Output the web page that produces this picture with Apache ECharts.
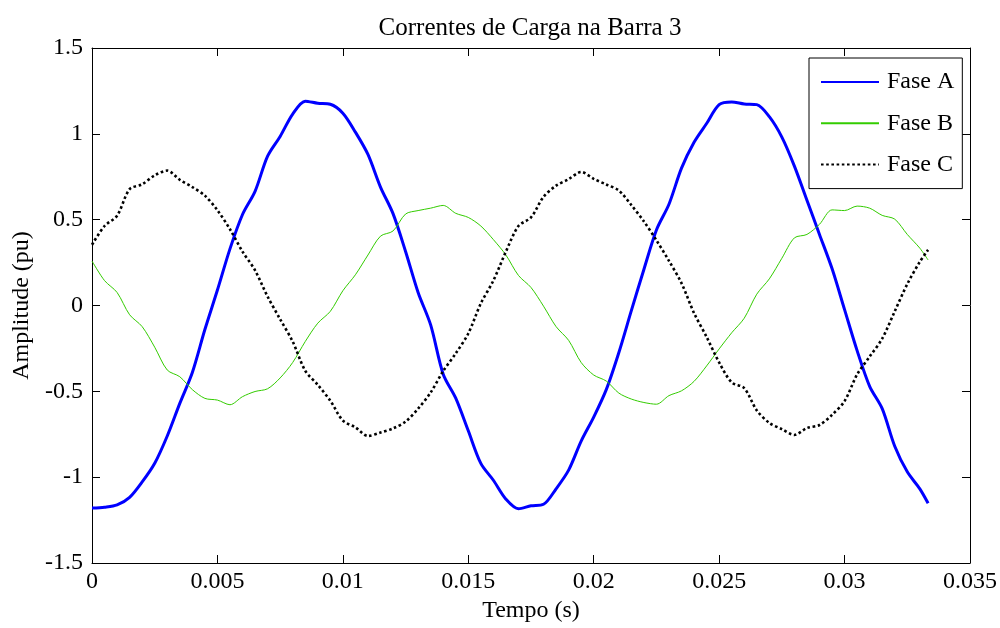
<!DOCTYPE html>
<html>
<head>
<meta charset="utf-8">
<script src="https://cdn.jsdelivr.net/npm/echarts@6/dist/echarts.min.js"></script>
<style>
html,body{margin:0;padding:0;background:#fff;}
#chart{width:1000px;height:628px;}
</style>
</head>
<body>
<div id="chart"></div>
<script>
var titleText = 'Correntes de Carga na Barra 3';
var xName = 'Tempo (s)';
var yName = 'Amplitude (pu)';
var seriesNames = ['Fase A', 'Fase B', 'Fase C'];
var xTicks = [0, 0.005, 0.01, 0.015, 0.02, 0.025, 0.03, 0.035];
var yTicks = [-1.5, -1, -0.5, 0, 0.5, 1, 1.5];

var tempo = [0, 0.0005, 0.001, 0.0015, 0.002, 0.0025, 0.003, 0.0035, 0.004, 0.0045,
  0.005, 0.0055, 0.006, 0.0065, 0.007, 0.0075, 0.008, 0.0085, 0.009, 0.0095,
  0.01, 0.0105, 0.011, 0.0115, 0.012, 0.0125, 0.013, 0.0135, 0.014, 0.0145,
  0.015, 0.0155, 0.016, 0.0165, 0.017, 0.0175, 0.018, 0.0185, 0.019, 0.0195,
  0.02, 0.0205, 0.021, 0.0215, 0.022, 0.0225, 0.023, 0.0235, 0.024, 0.0245,
  0.025, 0.0255, 0.026, 0.0265, 0.027, 0.0275, 0.028, 0.0285, 0.029, 0.0295,
  0.03, 0.0305, 0.031, 0.0315, 0.032, 0.0325, 0.033, 0.03333];

var faseA = [-1.18, -1.175, -1.162, -1.118, -1.028, -0.919, -0.76, -0.57, -0.39, -0.14,
  0.09, 0.33, 0.53, 0.665, 0.87, 0.985, 1.115, 1.19, 1.178, 1.172,
  1.12, 1.01, 0.88, 0.69, 0.535, 0.315, 0.076, -0.113, -0.40, -0.54,
  -0.73, -0.92, -1.018, -1.128, -1.184, -1.167, -1.158, -1.068, -0.959, -0.79,
  -0.65, -0.49, -0.275, -0.03, 0.21, 0.44, 0.59, 0.80, 0.951, 1.06,
  1.17, 1.186, 1.174, 1.17, 1.10, 0.981, 0.812, 0.613, 0.414, 0.215,
  -0.024, -0.263, -0.471, -0.601, -0.82, -0.969, -1.068, -1.152];

var faseB = [0.259, 0.145, 0.076, -0.054, -0.123, -0.243, -0.376, -0.415, -0.49, -0.541,
  -0.551, -0.578, -0.531, -0.501, -0.485, -0.422, -0.332, -0.21, -0.103, -0.034,
  0.086, 0.179, 0.294, 0.404, 0.434, 0.533, 0.553, 0.567, 0.583, 0.537,
  0.513, 0.463, 0.384, 0.294, 0.175, 0.105, -0.004, -0.123, -0.203, -0.332,
  -0.405, -0.44, -0.51, -0.545, -0.565, -0.575, -0.525, -0.497, -0.442, -0.352,
  -0.253, -0.159, -0.074, 0.066, 0.155, 0.275, 0.394, 0.414, 0.473, 0.557,
  0.553, 0.579, 0.567, 0.525, 0.503, 0.414, 0.334, 0.265];

var faseC = [0.354, 0.463, 0.523, 0.678, 0.706, 0.758, 0.786, 0.732, 0.69, 0.64,
  0.555, 0.444, 0.314, 0.205, 0.052, -0.08, -0.21, -0.38, -0.462, -0.555,
  -0.67, -0.71, -0.76, -0.74, -0.716, -0.676, -0.601, -0.507, -0.382, -0.279,
  -0.163, 0.012, 0.145, 0.314, 0.463, 0.513, 0.633, 0.698, 0.736, 0.778,
  0.738, 0.705, 0.67, 0.585, 0.49, 0.38, 0.26, 0.13, -0.044, -0.183,
  -0.332, -0.448, -0.481, -0.611, -0.684, -0.72, -0.754, -0.714, -0.696, -0.637,
  -0.557, -0.402, -0.298, -0.193, -0.034, 0.125, 0.255, 0.324];

function pairs(xs, ys) {
  var out = [];
  for (var i = 0; i < xs.length; i++) out.push([xs[i], ys[i]]);
  return out;
}
function fmt(v) {
  var r = Math.round(v * 1000) / 1000;
  return String(r);
}

var FONT = "'Liberation Serif', 'Times New Roman', 'DejaVu Serif', serif";
var chart = echarts.init(document.getElementById('chart'), null, {renderer: 'canvas'});

var xMin = xTicks[0], xMax = xTicks[xTicks.length - 1], xInt = xTicks[1] - xTicks[0];
var yMin = yTicks[0], yMax = yTicks[yTicks.length - 1], yInt = yTicks[1] - yTicks[0];

function xAxisCfg(pos, showLabel, name) {
  return {
    type: 'value', position: pos, min: xMin, max: xMax, interval: xInt,
    name: name || '', nameLocation: 'middle', nameGap: 36,
    nameTextStyle: {fontFamily: FONT, fontSize: 24, color: '#000'},
    axisLine: {show: true, onZero: false, lineStyle: {color: '#000', width: 1}},
    axisTick: {show: true, inside: true, length: 8, lineStyle: {color: '#000', width: 1}},
    axisLabel: {show: showLabel, margin: 7, fontFamily: FONT, fontSize: 24, color: '#000', formatter: fmt},
    splitLine: {show: false}
  };
}
function yAxisCfg(pos, showLabel, name) {
  return {
    type: 'value', position: pos, min: yMin, max: yMax, interval: yInt,
    name: name || '', nameLocation: 'middle', nameGap: 57, nameRotate: 90,
    nameTextStyle: {fontFamily: FONT, fontSize: 24, color: '#000'},
    axisLine: {show: true, onZero: false, lineStyle: {color: '#000', width: 1}},
    axisTick: {show: true, inside: true, length: 8, lineStyle: {color: '#000', width: 1}},
    axisLabel: {show: showLabel, margin: 9, fontFamily: FONT, fontSize: 24, color: '#000', formatter: fmt},
    splitLine: {show: false}
  };
}

var option = {
  animation: false,
  backgroundColor: '#fff',
  title: {
    text: titleText, left: 525, top: 11, textAlign: 'center',
    textStyle: {fontFamily: FONT, fontSize: 25, fontWeight: 'normal', color: '#000'}
  },
  grid: {left: 92, right: 30, top: 48, bottom: 60.5, containLabel: false},
  legend: {
    orient: 'vertical', left: 809, top: 58,
    padding: [12, 8, 12, 11],
    itemWidth: 58, itemHeight: 14, itemGap: 17.3,
    itemStyle: {opacity: 0, borderWidth: 0},
    backgroundColor: '#fff', borderColor: '#000', borderWidth: 1, borderRadius: 0,
    textStyle: {fontFamily: FONT, fontSize: 24, color: '#000', lineHeight: 14, padding: [0, 0, 0, 3]},
    data: seriesNames
  },
  xAxis: [xAxisCfg('bottom', true, xName), xAxisCfg('top', false)],
  yAxis: [yAxisCfg('left', true, yName), yAxisCfg('right', false)],
  series: [
    {name: seriesNames[0], type: 'line', symbol: 'none', smooth: 0.3,
     data: pairs(tempo, faseA), color: '#0000ff',
     lineStyle: {color: '#0000ff', width: 3}},
    {name: seriesNames[1], type: 'line', symbol: 'none', smooth: 0.3,
     data: pairs(tempo, faseB), color: '#33cc00',
     lineStyle: {color: '#33cc00', width: 1}},
    {name: seriesNames[2], type: 'line', symbol: 'none', smooth: 0.3,
     data: pairs(tempo, faseC), color: '#000000',
     lineStyle: {color: '#000000', width: 2.6, type: [2.6, 2.6], cap: 'butt'}}
  ]
};
chart.setOption(option);
</script>
</body>
</html>
